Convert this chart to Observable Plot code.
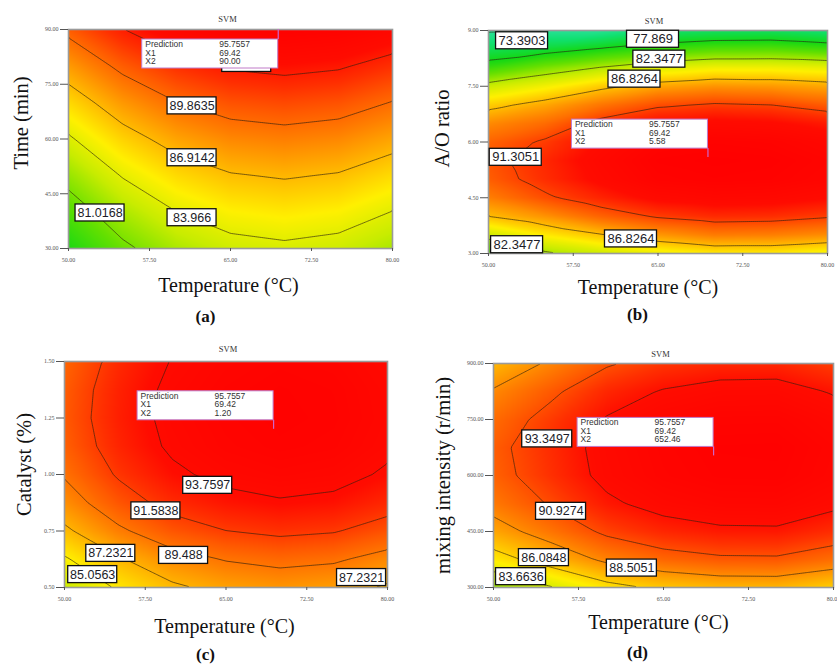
<!DOCTYPE html>
<html>
<head>
<meta charset="utf-8">
<script src="https://cdn.jsdelivr.net/npm/d3@7"></script>
<script src="https://cdn.jsdelivr.net/npm/@observablehq/plot@0.6"></script>
<style>
html,body{margin:0;padding:0;background:#fff;}
#wrap{position:relative;width:837px;height:664px;overflow:hidden;background:#fff;}
</style>
</head>
<body>
<div id="wrap"></div>
<script>
// ---------- shared axis data ----------
const temperature = [50, 55, 60, 65, 70, 75, 80];
const tempTicks = [50, 57.5, 65, 72.5, 80];

// ---------- (a) Time ----------
const timeMin = [30, 40, 50, 60, 70, 80, 90];
const yieldTime = [
  [78.24, 80.59, 82.27, 83.27, 83.60, 83.26, 82.24],
  [79.92, 82.27, 83.95, 84.95, 85.28, 84.94, 83.92],
  [81.74, 84.09, 85.77, 86.77, 87.10, 86.76, 85.74],
  [83.70, 86.05, 87.73, 88.73, 89.06, 88.72, 87.70],
  [85.79, 88.14, 89.82, 90.82, 91.15, 90.81, 89.79],
  [88.03, 90.38, 92.06, 93.06, 93.39, 93.05, 92.03],
  [90.40, 92.75, 94.43, 95.43, 95.76, 95.42, 94.40]
];
const timeTicks = [30, 45, 60, 75, 90];
const levelsTime = [81.0168, 83.966, 86.9142, 89.8635, 92.8128];
const labelTextTime = ["89.8635", "86.9142", "83.966", "81.0168"];
const labelTempTime = [61.44, 61.44, 61.44, 52.92];
const labelAtTime = [69.07, 54.86, 38.43, 39.73];
// label of the 92.8128 line, hidden behind the prediction flag
const hiddenTempTime = [66.5];
const hiddenAtTime = [80.7];

// ---------- (b) A/O ratio ----------
const aoRatio = [3, 3.5, 4, 4.5, 5, 5.5, 6, 6.5, 7, 7.5, 8, 8.5, 9];
const yieldAO = [
  [79.50, 82.00, 83.20, 84.35, 85.20, 85.20, 84.50],
  [83.20, 85.20, 86.70, 88.15, 89.19, 89.06, 88.50],
  [86.83, 88.30, 90.15, 91.54, 92.25, 92.11, 91.51],
  [89.05, 90.95, 92.53, 93.94, 94.41, 94.25, 93.61],
  [90.34, 92.13, 93.91, 95.34, 95.66, 95.48, 94.80],
  [90.69, 92.37, 94.29, 95.73, 95.99, 95.80, 95.08],
  [90.11, 91.60, 93.67, 95.14, 95.42, 95.21, 94.46],
  [88.60, 89.80, 92.05, 93.54, 93.94, 93.71, 92.92],
  [86.18, 87.60, 89.40, 90.94, 91.54, 91.30, 90.42],
  [83.13, 84.59, 86.30, 87.67, 88.28, 88.10, 87.58],
  [79.16, 81.00, 82.47, 83.76, 84.51, 84.52, 84.19],
  [75.92, 76.90, 78.08, 79.20, 79.90, 80.00, 79.40],
  [73.14, 73.25, 73.40, 75.00, 75.50, 75.60, 74.80]
];
const aoTicks = [3, 4.5, 6, 7.5, 9];
const levelsAO = [73.3903, 77.869, 82.3477, 86.8264, 91.3051];
const labelTextAO = ["73.3903", "77.869", "82.3477", "86.8264", "91.3051", "86.8264", "82.3477"];
const labelTempAO = [52.97, 64.56, 65.12, 62.92, 52.41, 62.61, 52.53];
const labelAtAO = [8.723, 8.764, 8.229, 7.691, 5.588, 3.392, 3.236];

// ---------- (c) Catalyst ----------
const catalyst = [0.5, 0.625, 0.75, 0.875, 1.0, 1.125, 1.25, 1.375, 1.5];
const yieldCat = [
  [83.10, 85.30, 86.90, 87.80, 88.22, 87.95, 87.00],
  [84.82, 87.02, 88.62, 89.52, 89.94, 89.67, 88.72],
  [86.86, 89.06, 90.66, 91.56, 91.98, 91.71, 90.76],
  [88.45, 90.65, 92.25, 93.15, 93.57, 93.30, 92.35],
  [89.59, 91.79, 93.39, 94.29, 94.71, 94.44, 93.49],
  [90.27, 92.47, 94.07, 94.97, 95.39, 95.12, 94.17],
  [90.50, 92.70, 94.30, 95.20, 95.62, 95.35, 94.40],
  [90.40, 92.60, 94.20, 95.10, 95.52, 95.25, 94.30],
  [90.05, 92.25, 93.85, 94.75, 95.17, 94.90, 93.95]
];
const catTicks = [0.5, 0.75, 1.0, 1.25, 1.5];
const levelsCat = [85.0563, 87.2321, 89.4079, 91.5838, 93.7597];
const labelTextCat = ["93.7597", "91.5838", "89.488", "87.2321", "85.0563", "87.2321"];
const labelTempCat = [63.3, 58.49, 61.06, 54.3, 52.62, 77.59];
const labelAtCat = [0.952, 0.839, 0.642, 0.651, 0.557, 0.544];

// ---------- (d) Mixing intensity ----------
const mixing = [300, 375, 450, 525, 600, 675, 750, 825, 900];
const yieldMix = [
  [81.70, 83.50, 85.40, 86.50, 87.05, 87.10, 86.20],
  [85.23, 87.03, 88.93, 90.03, 90.58, 90.63, 89.73],
  [87.63, 89.43, 91.33, 92.43, 92.98, 93.03, 92.13],
  [89.29, 91.09, 92.99, 94.09, 94.64, 94.69, 93.79],
  [90.20, 92.00, 93.90, 95.00, 95.55, 95.60, 94.70],
  [90.37, 92.17, 94.07, 95.17, 95.72, 95.77, 94.87],
  [89.80, 91.60, 93.50, 94.60, 95.15, 95.20, 94.30],
  [88.70, 90.50, 92.40, 93.50, 94.05, 94.10, 93.20],
  [87.00, 88.80, 90.70, 91.80, 92.35, 92.40, 91.50]
];
const mixTicks = [300, 450, 600, 750, 900];
const levelsMix = [83.6636, 86.0848, 88.5051, 90.9274, 93.3497];
const labelTextMix = ["93.3497", "90.9274", "86.0848", "88.5051", "83.6636"];
const labelTempMix = [54.74, 55.96, 54.45, 62.21, 52.43];
const labelAtMix = [698, 504, 380, 352, 329];

// ---------- prediction flag ----------
const predictionValue = 95.7557;
const predX1 = 69.42;
const predX2 = ["90.00", "5.58", "1.20", "652.46"];
const predX2Value = [90, 5.58, 1.2, 652.46];

// ---------- colour map (response) ----------
const colorDomain = [72, 75, 78, 80.5, 83, 85, 87, 89, 90.5, 92, 93.5, 96];
const colorRange = ["#3ce0b4", "#10e070", "#14d814", "#66e000", "#c8ec00", "#fff000",
                    "#ffb800", "#ff8000", "#ff5a00", "#ff3000", "#ff0c00", "#ff0000"];

const fmt2 = d3.format(".2f");
function toPoints(rows, grid) {
  const pts = [];
  rows.forEach((y, i) => temperature.forEach((x, j) => pts.push({x, y, v: grid[i][j]})));
  return pts;
}

function panel(c) {
  const pts = toPoints(c.rows, c.grid);
  const labels = c.labelText.map((t, i) => ({t, x: c.labelX[i], y: c.labelY[i]}));
  const hidden = (c.hiddenX || []).map((x, i) => ({x, y: c.hiddenY[i]}));
  const pred = [{
    x: predX1, y: c.predY,
    names: "Prediction\nX1\nX2",
    vals: `${predictionValue.toFixed(4)}\n${predX1.toFixed(2)}\n${c.predText}`
  }];
  const W = 136, H = 29, gap = 9;
  const below = c.predBelow;
  const boxTop = below ? gap + 1 : -(gap + H);
  const bw = c.boxW, bh = 17;
  const boxStyle = {insetLeft: -bw / 2, insetRight: -bw / 2, insetTop: -bh / 2, insetBottom: -bh / 2,
        fill: "white", stroke: "#111", strokeWidth: 1.3};
  const svg = Plot.plot({
    width: c.width, height: c.height,
    marginLeft: c.ml, marginRight: c.mr, marginTop: c.mt, marginBottom: c.mb,
    x: {domain: [50, 80]},
    y: {domain: c.yDomain},
    color: {type: "linear", domain: colorDomain, range: colorRange, clamp: true},
    style: {fontFamily: "Liberation Serif", background: "white", overflow: "visible"},
    marks: [
      Plot.raster(pts, {x: "x", y: "y", fill: "v", interpolate: "barycentric"}),
      Plot.contour(pts, {x: "x", y: "y", value: "v", interpolate: "barycentric",
        thresholds: c.levels, fill: "none", stroke: "#2a1e10", strokeWidth: 0.7, strokeOpacity: 0.9}),
      Plot.frame({stroke: "#9a9a9a", strokeWidth: 1.6}),
      Plot.axisY(c.yTicks, {tickFormat: fmt2, tickSize: 8, tickPadding: 2, fontSize: 6,
        label: null, color: "#555"}),
      Plot.axisX(tempTicks, {tickFormat: fmt2, tickSize: 3, tickPadding: 6, fontSize: 6,
        label: null, color: "#555"}),
      Plot.rect(hidden, {x1: "x", x2: "x", y1: "y", y2: "y", ...boxStyle}),
      Plot.rect(labels, {x1: "x", x2: "x", y1: "y", y2: "y", ...boxStyle}),
      Plot.text(labels, {x: "x", y: "y", text: "t", fontSize: c.labelFont, fontFamily: "Liberation Sans",
        fill: "#1c1c28", lineAnchor: "middle"}),
      Plot.ruleX(pred, {x: "x", y1: "y", y2: "y",
        insetTop: below ? 0 : -gap, insetBottom: below ? -(gap + 1) : 0,
        stroke: "#cc66cc", strokeWidth: 1.2}),
      Plot.rect(pred, {x1: "x", x2: "x", y1: "y", y2: "y",
        insetLeft: -W, insetRight: 0, insetTop: boxTop, insetBottom: -(boxTop + H),
        fill: "white", stroke: "#c07ac8", strokeWidth: 1}),
      Plot.text(pred, {x: "x", y: "y", text: "names", textAnchor: "start", lineAnchor: "top",
        dx: -W + 3, dy: boxTop + 1.5, fontSize: 8.5, lineHeight: 1.0,
        fontFamily: "Liberation Sans", fill: "#333"}),
      Plot.text(pred, {x: "x", y: "y", text: "vals", textAnchor: "start", lineAnchor: "top",
        dx: -W + 77, dy: boxTop + 1.5, fontSize: 8.5, lineHeight: 1.0,
        fontFamily: "Liberation Sans", fill: "#333"}),
      Plot.text(["SVM"], {text: d => d, frameAnchor: "top", lineAnchor: "middle", textAnchor: "middle",
        dx: c.title[0], dy: c.title[1], fontSize: 8.5, fill: "#333"}),
      Plot.text(["Temperature (°C)"], {text: d => d, frameAnchor: "bottom", lineAnchor: "middle",
        textAnchor: "middle", dx: c.xlab[0], dy: c.xlab[1], fontSize: 20, fill: "#111"}),
      Plot.text([c.ylabel], {text: d => d, frameAnchor: "left", lineAnchor: "middle",
        textAnchor: "middle", rotate: -90, dx: c.ylab[0], dy: c.ylab[1], fontSize: 20.5, fill: "#111"}),
      Plot.text([c.tag], {text: d => d, frameAnchor: "bottom", lineAnchor: "middle",
        textAnchor: "middle", dx: c.tagPos[0], dy: c.tagPos[1], fontSize: 17, fontWeight: "bold", fill: "#111"})
    ]
  });
  svg.style.position = "absolute";
  svg.style.left = c.left + "px";
  svg.style.top = c.top + "px";
  document.getElementById("wrap").appendChild(svg);
}

panel({
  left: 0, top: 0, width: 420, height: 330, ml: 68, mr: 28, mt: 29, mb: 82,
  rows: timeMin, grid: yieldTime, yDomain: [30, 90], yTicks: timeTicks, levels: levelsTime,
  labelText: labelTextTime, labelX: labelTempTime, labelY: labelAtTime, boxW: 49, labelFont: 12.5,
  hiddenX: hiddenTempTime, hiddenY: hiddenAtTime,
  predY: predX2Value[0], predText: predX2[0], predBelow: true,
  ylabel: "Time (min)", tag: "(a)",
  title: [-3, -10], xlab: [-2, 37], ylab: [-47, -16], tagPos: [-25, 68]
});
panel({
  left: 420, top: 0, width: 417, height: 330, ml: 68, mr: 10, mt: 30, mb: 77,
  rows: aoRatio, grid: yieldAO, yDomain: [3, 9], yTicks: aoTicks, levels: levelsAO,
  labelText: labelTextAO, labelX: labelTempAO, labelY: labelAtAO, boxW: 52, labelFont: 13,
  predY: predX2Value[1], predText: predX2[1], predBelow: false,
  ylabel: "A/O ratio", tag: "(b)",
  title: [-4, -9.3], xlab: [-10, 34.5], ylab: [-46.3, -13.5], tagPos: [-20.5, 61.5]
});
panel({
  left: 0, top: 330, width: 420, height: 334, ml: 64, mr: 33, mt: 31, mb: 77,
  rows: catalyst, grid: yieldCat, yDomain: [0.5, 1.5], yTicks: catTicks, levels: levelsCat,
  labelText: labelTextCat, labelX: labelTempCat, labelY: labelAtCat, boxW: 49, labelFont: 12.5,
  predY: predX2Value[2], predText: predX2[2], predBelow: false,
  ylabel: "Catalyst (%)", tag: "(c)",
  title: [2, -12], xlab: [-1.5, 39], ylab: [-40, -10], tagPos: [-20.5, 67.5]
});
panel({
  left: 420, top: 330, width: 417, height: 334, ml: 73, mr: 4, mt: 33, mb: 77,
  rows: mixing, grid: yieldMix, yDomain: [300, 900], yTicks: mixTicks, levels: levelsMix,
  labelText: labelTextMix, labelX: labelTempMix, labelY: labelAtMix, boxW: 50, labelFont: 12.5,
  predY: predX2Value[3], predText: predX2[3], predBelow: false,
  ylabel: "mixing intensity (r/min)", tag: "(d)",
  title: [-3, -9], xlab: [-5, 35.5], ylab: [-49.7, 0], tagPos: [-26, 65.5]
});
</script>
</body>
</html>
